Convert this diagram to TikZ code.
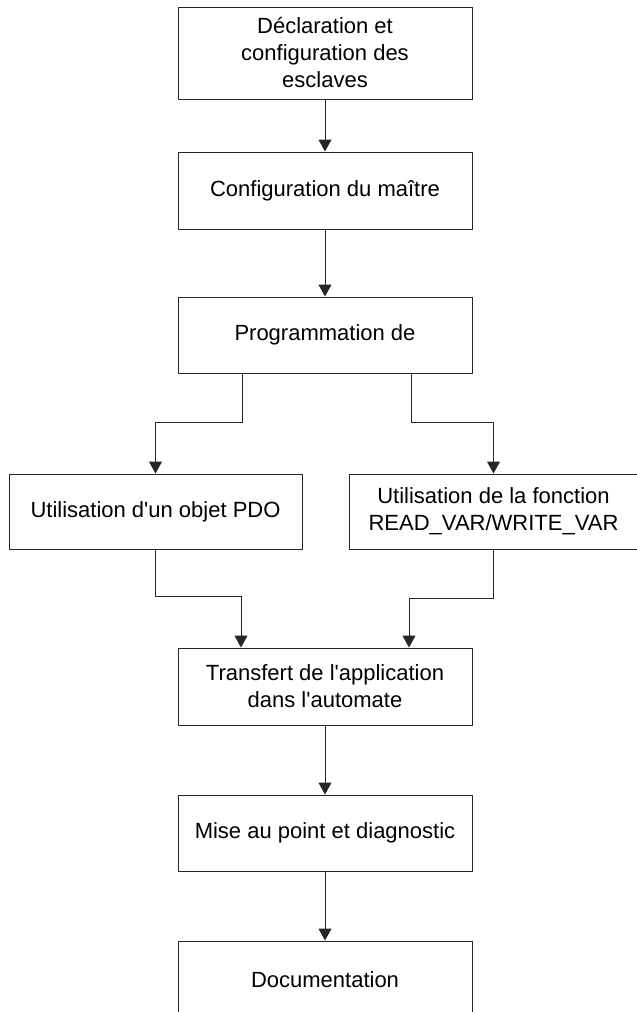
\documentclass[tikz,border=0pt]{standalone}
\usepackage{fontspec}
\newfontfamily\arial{Liberation Sans}
\usetikzlibrary{arrows.meta}

\tikzset{
  boite/.style={draw=black!85, line width=1pt, minimum width=294pt,
    align=center, inner sep=0pt, font=\arial\fontsize{22}{27}\selectfont},
  fleche/.style={draw=black!85, line width=1pt,
    -{Triangle[width=13pt,length=12pt]}}
}

\begin{document}
\begin{tikzpicture}[x=1pt,y=-1pt]
  \useasboundingbox (0,0) rectangle (637,1012);

  % les etapes
  \node[boite, minimum height=92pt] (decl) at (325,53)
    {Déclaration et\\configuration des\\esclaves};
  \node[boite, minimum height=77pt] (maitre) at (325,190.5)
    {Configuration du maître};
  \node[boite, minimum height=76pt] (prog) at (325,335)
    {Programmation de};
  \node[boite, minimum width=293pt, minimum height=75pt] (pdo) at (155.5,511.5)
    {Utilisation d'un objet PDO};
  \node[boite, minimum width=289pt, minimum height=75pt] (fonction) at (493.5,511.5)
    {Utilisation de la fonction\\READ\_VAR/WRITE\_VAR};
  \node[boite, minimum height=77pt] (transfert) at (325,686.5)
    {Transfert de l'application\\dans l'automate};
  \node[boite, minimum height=76pt] (diag) at (325,833)
    {Mise au point et diagnostic};
  \node[boite, minimum height=77pt] (doc) at (325,979.5)
    {Documentation};

  % les liaisons
  \draw[fleche] (decl) -- (maitre);
  \draw[fleche] (maitre) -- (prog);
  \draw[fleche] ([xshift=-83pt]prog.south) -- ++(0,49) -| (pdo.north);
  \draw[fleche] ([xshift=86pt]prog.south) -- ++(0,49) -| (fonction.north);
  \draw[fleche] (pdo.south) -- ++(0,47) -| ([xshift=-84pt]transfert.north);
  \draw[fleche] (fonction.south) -- ++(0,49) -| ([xshift=84pt]transfert.north);
  \draw[fleche] (transfert) -- (diag);
  \draw[fleche] (diag) -- (doc);
\end{tikzpicture}
\end{document}
